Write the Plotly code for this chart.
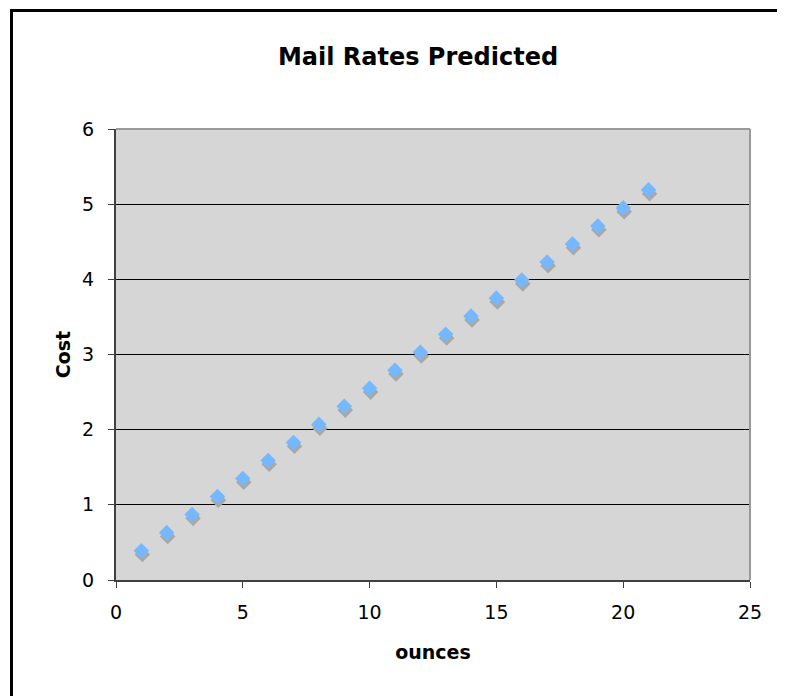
import plotly.graph_objects as go

ounces = [1, 2, 3, 4, 5, 6, 7, 8, 9, 10, 11, 12, 13, 14, 15, 16, 17, 18, 19, 20, 21]
cost = [0.39, 0.63, 0.87, 1.11, 1.35, 1.59, 1.83, 2.07, 2.31, 2.55, 2.79,
        3.03, 3.27, 3.51, 3.75, 3.99, 4.23, 4.47, 4.71, 4.95, 5.19]
x_ticks = [0, 5, 10, 15, 20, 25]
y_ticks = [0, 1, 2, 3, 4, 5, 6]

SHADOW_DX = 0.04
SHADOW_DY = 0.05
FONT = "DejaVu Sans"

fig = go.Figure()
# drop shadow
fig.add_trace(go.Scatter(
    x=[v + SHADOW_DX for v in ounces], y=[v - SHADOW_DY for v in cost],
    mode="markers", marker=dict(symbol="diamond", size=12, color="#A8A8A8", line=dict(width=0)),
    hoverinfo="skip", showlegend=False))
fig.add_trace(go.Scatter(
    x=ounces, y=cost, mode="markers",
    marker=dict(symbol="diamond", size=12, color="#75B8FF", line=dict(width=0)),
    showlegend=False, name="Cost"))

OFF = 8  # page offset of the figure in the screenshot
L, T = 116 - OFF, 129 - OFF
W, H = 785, 696
R = W - (750 - OFF)
B = H - (580 - OFF)
pw, ph = W - L - R, H - T - B

def px(xp):
    return (xp - OFF - L) / pw

def py(yp):
    return (H - B - (yp - OFF)) / ph

shapes = [
    # outer chart border
    dict(type="rect", xref="paper", yref="paper", x0=px(11.5), x1=px(800), y0=py(10.5), y1=py(710),
         line=dict(color="black", width=3), fillcolor="rgba(0,0,0,0)", layer="above"),
    # top and right plot-area border (gray)
    dict(type="line", xref="paper", yref="paper", x0=0, x1=1, y0=1, y1=1,
         line=dict(color="#999999", width=2)),
    dict(type="line", xref="paper", yref="paper", x0=1, x1=1, y0=0, y1=1,
         line=dict(color="#999999", width=2)),
]

fig.update_layout(
    width=W, height=H,
    margin=dict(l=L, r=R, t=T, b=B),
    paper_bgcolor="white", plot_bgcolor="#D6D6D6",
    font=dict(family=FONT, size=19, color="black"),
    title=dict(text="<b>Mail Rates Predicted</b>", x=px(418), xanchor="center",
               xref="paper", y=1 - (57 - OFF) / H, yanchor="middle",
               font=dict(family=FONT, size=24, color="black")),
    xaxis=dict(range=[0, 25], tickvals=x_ticks, ticktext=[str(v) for v in x_ticks],
               showgrid=False, zeroline=False, showline=True, linecolor="#404040", linewidth=2,
               ticks="outside", ticklen=6, tickcolor="#404040", tickwidth=1,
               ticklabelstandoff=8,
               tickfont=dict(family=FONT, size=19),
               title=dict(text="<b>ounces</b>", font=dict(family=FONT, size=19), standoff=24)),
    yaxis=dict(range=[0, 6], tickvals=y_ticks, ticktext=[str(v) for v in y_ticks],
               showgrid=True, gridcolor="black", gridwidth=1, zeroline=False,
               showline=True, linecolor="#404040", linewidth=2,
               ticks="outside", ticklen=6, tickcolor="#404040", tickwidth=1,
               ticklabelstandoff=10,
               tickfont=dict(family=FONT, size=19),
               title=dict(text="<b>Cost</b>", font=dict(family=FONT, size=19), standoff=6)),
    shapes=shapes,
)

fig.write_html("out.html")
